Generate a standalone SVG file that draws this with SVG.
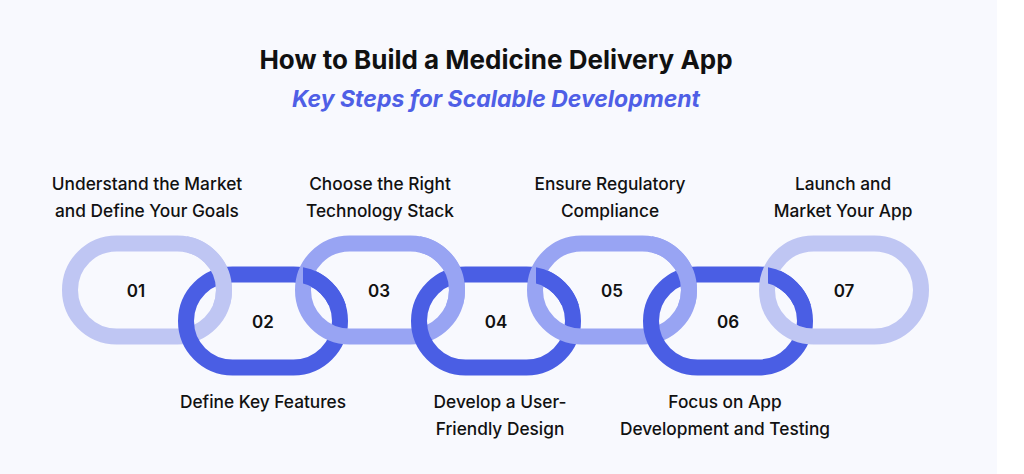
<svg xmlns="http://www.w3.org/2000/svg" width="1024" height="474" viewBox="0 0 1024 474">
<style>
.t{font-family:Inter,"Liberation Sans",sans-serif;fill:#111;text-anchor:middle}
.lb{font-size:17.3px;font-weight:500}
.n{font-size:17px;font-weight:600}
.lk{fill:none;stroke-width:16}
.a{stroke:#bfc6f3}.b{stroke:#4a5ee4}.c{stroke:#98a4f3}
</style>
<defs>
<rect id="L" x="-77" y="-46.5" width="154" height="93" rx="46.5"/>
<clipPath id="cp"><rect x="40" y="-70" width="80" height="85"/></clipPath>
</defs>
<rect width="1024" height="474" fill="#fff"/>
<rect width="997" height="474" fill="#f8f9fe"/>
<text class="t" x="496" y="69" font-size="26" font-weight="700">How to Build a Medicine Delivery App</text>
<text class="t" x="496" y="107" font-size="23" font-weight="700" font-style="italic" style="fill:#4f5fe6">Key Steps for Scalable Development</text>
<g id="links">
<use href="#L" class="lk a" transform="translate(147,290)"/>
<use href="#L" class="lk b" transform="translate(263,321)"/>
<use href="#L" class="lk c" transform="translate(380,290)"/>
<use href="#L" class="lk b" transform="translate(496,321)"/>
<use href="#L" class="lk c" transform="translate(612,290)"/>
<use href="#L" class="lk b" transform="translate(728,321)"/>
<use href="#L" class="lk a" transform="translate(844,290)"/>
<g clip-path="url(#cp)" transform="translate(147,290)"><use href="#L" class="lk a"/></g>
<g clip-path="url(#cp)" transform="translate(263,290)"><use href="#L" class="lk b" y="31"/></g>
<g clip-path="url(#cp)" transform="translate(380,290)"><use href="#L" class="lk c"/></g>
<g clip-path="url(#cp)" transform="translate(496,290)"><use href="#L" class="lk b" y="31"/></g>
<g clip-path="url(#cp)" transform="translate(612,290)"><use href="#L" class="lk c"/></g>
<g clip-path="url(#cp)" transform="translate(728,290)"><use href="#L" class="lk b" y="31"/></g>
</g>
<g id="s1"><text class="t n" x="136" y="297">01</text><text class="t lb" x="147" y="190">Understand the Market</text><text class="t lb" x="147" y="217">and Define Your Goals</text></g>
<g id="s2"><text class="t n" x="263" y="328">02</text><text class="t lb" x="263" y="408">Define Key Features</text></g>
<g id="s3"><text class="t n" x="379" y="297">03</text><text class="t lb" x="380" y="190">Choose the Right</text><text class="t lb" x="380" y="217">Technology Stack</text></g>
<g id="s4"><text class="t n" x="496" y="328">04</text><text class="t lb" x="500" y="408">Develop a User-</text><text class="t lb" x="500" y="435">Friendly Design</text></g>
<g id="s5"><text class="t n" x="612" y="297">05</text><text class="t lb" x="610" y="190">Ensure Regulatory</text><text class="t lb" x="610" y="217">Compliance</text></g>
<g id="s6"><text class="t n" x="728" y="328">06</text><text class="t lb" x="725" y="408">Focus on App</text><text class="t lb" x="725" y="435">Development and Testing</text></g>
<g id="s7"><text class="t n" x="844" y="297">07</text><text class="t lb" x="843" y="190">Launch and</text><text class="t lb" x="843" y="217">Market Your App</text></g>
</svg>
